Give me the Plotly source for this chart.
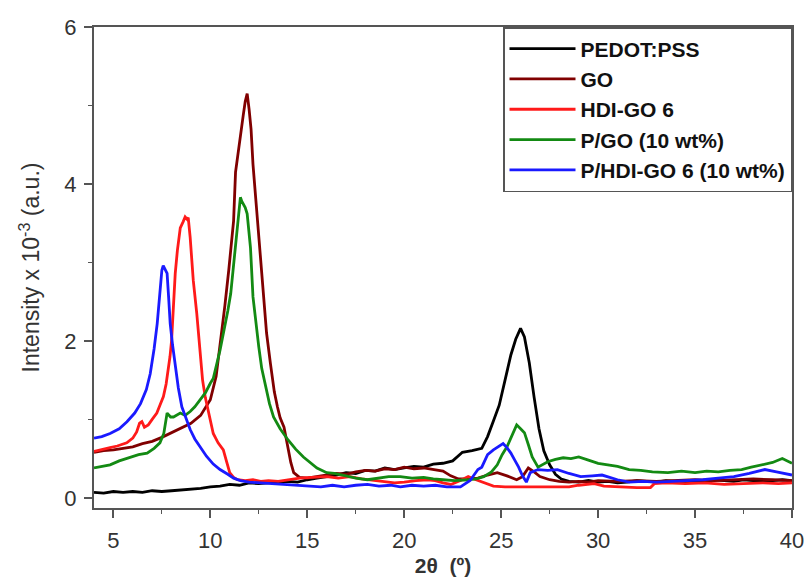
import plotly.graph_objects as go

# ---- data (2θ in degrees, intensity x 10^-3 a.u.) ----
PEDOT_PSS = [(4.0,0.07),(4.5,0.06),(5.0,0.08),(5.5,0.07),(6.0,0.08),(6.5,0.07),(7.0,0.09),(7.5,0.08),
    (8.0,0.09),(8.5,0.10),(9.0,0.11),(9.5,0.12),(10.0,0.14),(10.5,0.15),(11.0,0.17),(11.5,0.16),
    (12.0,0.19),(12.5,0.18),(13.0,0.19),(13.5,0.20),(14.0,0.21),(14.5,0.20),(15.0,0.23),(15.5,0.25),
    (16.0,0.27),(16.5,0.29),(17.0,0.32),(17.5,0.31),(18.0,0.35),(18.5,0.34),(19.0,0.38),(19.5,0.36),
    (20.0,0.38),(20.5,0.40),(21.0,0.39),(21.5,0.43),(22.0,0.44),(22.5,0.47),(23.0,0.58),(23.5,0.60),
    (24.0,0.63),(24.3,0.78),(24.6,0.98),(24.9,1.18),(25.2,1.50),(25.5,1.82),(25.75,2.02),(26.0,2.16),
    (26.2,2.05),(26.45,1.72),(26.7,1.28),(26.95,0.88),(27.2,0.60),(27.5,0.42),(27.8,0.30),(28.1,0.24),
    (28.5,0.21),(29.0,0.20),(29.5,0.22),(30.0,0.20),(30.5,0.21),(31.0,0.19),(31.5,0.20),(32.0,0.22),
    (32.5,0.21),(33.0,0.20),(33.5,0.22),(34.0,0.21),(34.5,0.20),(35.0,0.22),(35.5,0.21),(36.0,0.23),
    (36.5,0.22),(37.0,0.21),(37.5,0.23),(38.0,0.22),(38.5,0.21),(39.0,0.22),(39.5,0.23),(40.0,0.22)]

GO = [(4.0,0.58),(4.5,0.60),(5.0,0.61),(5.5,0.63),(6.0,0.65),(6.5,0.69),(7.0,0.72),(7.5,0.77),
    (8.0,0.83),(8.5,0.89),(9.0,0.95),(9.5,1.05),(10.0,1.25),(10.3,1.55),(10.5,1.92),(10.75,2.45),
    (10.95,2.90),(11.1,3.30),(11.2,3.53),(11.3,4.15),(11.45,4.45),(11.55,4.63),(11.7,4.88),(11.8,5.05),
    (11.9,5.15),(12.0,4.95),(12.1,4.70),(12.2,4.25),(12.35,3.80),(12.5,3.40),(12.6,3.00),(12.75,2.56),
    (12.9,2.10),(13.1,1.71),(13.3,1.35),(13.46,1.16),(13.6,1.02),(13.8,0.90),(14.0,0.65),(14.15,0.45),
    (14.3,0.32),(14.6,0.26),(15.0,0.25),(15.5,0.27),(16.0,0.29),(16.5,0.31),(17.0,0.30),(17.5,0.33),
    (18.0,0.35),(18.5,0.34),(19.0,0.37),(19.5,0.36),(20.0,0.39),(20.5,0.37),(21.0,0.38),(21.5,0.36),
    (22.0,0.34),(22.4,0.28),(22.8,0.24),(23.3,0.24),(23.8,0.25),(24.3,0.29),(24.8,0.32),(25.3,0.28),
    (25.8,0.23),(26.1,0.27),(26.4,0.38),(26.7,0.33),(27.0,0.27),(27.5,0.23),(28.0,0.21),(28.5,0.20),
    (29.0,0.21),(29.5,0.20),(30.0,0.22),(31.0,0.21),(32.0,0.22),(33.0,0.21),(34.0,0.22),(35.0,0.23),
    (36.0,0.22),(37.0,0.23),(38.0,0.24),(39.0,0.23),(40.0,0.22)]

HDI_GO_6 = [(4.0,0.59),(4.4,0.61),(4.83,0.64),(5.2,0.66),(5.69,0.70),(6.0,0.76),(6.2,0.84),(6.35,0.95),
    (6.47,0.97),(6.6,0.90),(6.8,0.93),(7.0,1.00),(7.24,1.08),(7.4,1.18),(7.58,1.29),(7.72,1.45),
    (7.83,1.62),(7.92,1.80),(8.0,2.00),(8.1,2.45),(8.19,2.86),(8.3,3.15),(8.45,3.44),(8.6,3.52),
    (8.7,3.58),(8.8,3.55),(8.86,3.57),(8.96,3.32),(9.05,3.00),(9.12,2.77),(9.3,2.35),(9.48,1.79),
    (9.6,1.50),(9.74,1.28),(9.95,1.02),(10.15,0.82),(10.4,0.70),(10.67,0.61),(10.85,0.45),(11.0,0.32),
    (11.2,0.26),(11.4,0.23),(11.8,0.22),(12.2,0.23),(12.6,0.21),(13.0,0.22),(13.5,0.21),(14.0,0.23),
    (14.6,0.25),(15.2,0.26),(16.0,0.27),(16.6,0.25),(17.2,0.27),(17.8,0.24),(18.4,0.22),(19.0,0.20),
    (19.5,0.19),(20.0,0.20),(20.6,0.22),(21.2,0.23),(21.6,0.22),(22.0,0.19),(22.4,0.17),(22.9,0.22),
    (23.3,0.27),(23.6,0.24),(24.0,0.20),(24.6,0.15),(25.2,0.14),(26.0,0.14),(27.0,0.14),(28.0,0.14),
    (28.5,0.14),(29.0,0.16),(29.8,0.18),(30.3,0.15),(31.0,0.14),(32.0,0.13),(32.7,0.13),(32.9,0.18),
    (33.5,0.19),(34.5,0.18),(35.5,0.19),(36.5,0.17),(37.5,0.18),(38.5,0.19),(39.3,0.18),(40.0,0.19)]

P_GO_10 = [(4.0,0.38),(4.4,0.40),(4.83,0.42),(5.3,0.47),(5.86,0.52),(6.3,0.55),(6.74,0.57),(7.1,0.63),
    (7.4,0.70),(7.6,0.82),(7.77,1.08),(7.95,1.03),(8.1,1.03),(8.3,1.06),(8.45,1.08),(8.7,1.05),
    (8.96,1.10),(9.2,1.16),(9.48,1.25),(9.75,1.34),(10.0,1.46),(10.15,1.52),(10.5,1.88),(10.7,2.12),
    (10.9,2.38),(11.05,2.60),(11.2,2.98),(11.35,3.35),(11.45,3.62),(11.55,3.83),(11.62,3.78),(11.7,3.74),
    (11.8,3.70),(11.9,3.62),(12.0,3.40),(12.07,3.19),(12.2,2.56),(12.35,2.20),(12.5,1.92),(12.65,1.65),
    (12.85,1.41),(13.05,1.20),(13.26,1.03),(13.6,0.88),(14.0,0.74),(14.4,0.62),(14.8,0.52),(15.2,0.44),
    (15.5,0.38),(16.0,0.32),(16.4,0.31),(17.0,0.28),(17.5,0.25),(18.1,0.23),(18.6,0.25),(19.2,0.27),
    (19.8,0.27),(20.4,0.25),(21.0,0.26),(21.5,0.24),(22.0,0.23),(22.6,0.22),(23.3,0.23),(23.7,0.24),
    (24.1,0.27),(24.5,0.33),(24.8,0.42),(25.05,0.55),(25.3,0.65),(25.55,0.80),(25.8,0.93),(26.0,0.88),
    (26.2,0.83),(26.4,0.68),(26.6,0.52),(26.9,0.39),(27.1,0.42),(27.4,0.46),(27.8,0.49),(28.2,0.51),
    (28.6,0.50),(29.0,0.52),(29.5,0.48),(30.0,0.44),(30.5,0.42),(31.0,0.40),(31.6,0.36),(32.2,0.35),
    (32.8,0.33),(33.6,0.32),(34.3,0.34),(35.0,0.32),(35.6,0.34),(36.2,0.33),(36.8,0.35),(37.4,0.36),
    (37.9,0.39),(38.5,0.42),(39.0,0.45),(39.5,0.50),(40.0,0.44)]

P_HDI_GO_6_10 = [(4.0,0.76),(4.4,0.78),(4.83,0.82),(5.3,0.88),(5.7,0.97),(6.1,1.08),(6.4,1.20),(6.7,1.38),
    (6.9,1.58),(7.1,1.90),(7.26,2.22),(7.4,2.60),(7.5,2.90),(7.57,2.96),(7.65,2.92),(7.77,2.86),
    (7.85,2.55),(7.93,2.22),(8.05,1.95),(8.19,1.67),(8.35,1.40),(8.53,1.16),(8.75,1.00),(8.96,0.87),
    (9.2,0.75),(9.48,0.65),(9.8,0.53),(10.15,0.43),(10.5,0.36),(10.9,0.30),(11.2,0.25),(11.55,0.22),
    (12.0,0.20),(12.6,0.19),(13.2,0.18),(14.0,0.17),(14.8,0.16),(15.7,0.14),(16.3,0.16),(16.9,0.14),
    (17.5,0.16),(18.1,0.17),(18.7,0.15),(19.3,0.16),(19.8,0.14),(20.4,0.16),(21.0,0.15),(21.6,0.16),
    (22.2,0.14),(22.9,0.14),(23.4,0.22),(23.8,0.36),(24.0,0.39),(24.3,0.55),(24.6,0.61),(25.1,0.69),
    (25.3,0.64),(25.5,0.57),(25.7,0.48),(25.9,0.39),(26.1,0.28),(26.3,0.20),(26.5,0.32),(26.9,0.36),
    (27.4,0.35),(27.9,0.36),(28.5,0.31),(29.1,0.27),(29.7,0.28),(30.2,0.29),(31.0,0.23),(31.6,0.20),
    (32.3,0.21),(33.0,0.20),(33.8,0.21),(34.6,0.22),(35.4,0.23),(36.2,0.25),(37.0,0.27),(37.8,0.31),
    (38.6,0.36),(39.2,0.33),(40.0,0.29)]

SERIES_NAMES = ["PEDOT:PSS", "GO", "HDI-GO 6", "P/GO (10 wt%)", "P/HDI-GO 6 (10 wt%)"]
SERIES_DATA = [PEDOT_PSS, GO, HDI_GO_6, P_GO_10, P_HDI_GO_6_10]
SERIES_COLORS = ["#000000", "#800000", "#ff1a1a", "#138a13", "#1a1aff"]

X_TICKS = [5, 10, 15, 20, 25, 30, 35, 40]
Y_TICKS = [0, 2, 4, 6]

FONT = "Liberation Sans, Arial, sans-serif"

fig = go.Figure()
for name, data, color in zip(SERIES_NAMES, SERIES_DATA, SERIES_COLORS):
    fig.add_trace(go.Scatter(
        x=[p[0] for p in data], y=[p[1] for p in data],
        mode="lines", name=name,
        line=dict(color=color, width=2.8),
    ))

axis_common = dict(
    showline=True, linecolor="#555555", linewidth=2, mirror=True,
    ticks="outside", ticklen=8, tickwidth=1.5, tickcolor="#555555",
    showgrid=False, zeroline=False, automargin=False,
    tickfont=dict(family=FONT, size=22, color="#333333"),
)

fig.update_xaxes(
    range=[4, 40], tickvals=X_TICKS, ticklabelstandoff=4,
    minor=dict(dtick=2.5, tick0=2.5, ticks="outside", ticklen=4, tickcolor="#555555", tickwidth=1.2),
    title=dict(text="<b>2θ  (º)</b>", font=dict(family=FONT, size=21, color="#333333"), standoff=6),
    **axis_common,
)
fig.update_yaxes(
    range=[-0.13, 6], tickvals=Y_TICKS, ticklabelstandoff=3,
    minor=dict(dtick=1, tick0=1, ticks="outside", ticklen=4, tickcolor="#555555", tickwidth=1.2),
    title=dict(text="Intensity x 10<sup>-3</sup> (a.u.)", font=dict(family=FONT, size=23, color="#333333"), standoff=18),
    **axis_common,
)

fig.update_layout(
    width=806, height=583,
    margin=dict(l=94, r=14, t=27, b=75),
    plot_bgcolor="white", paper_bgcolor="white",
    legend=dict(
        x=1, y=1, xanchor="right", yanchor="top",
        bordercolor="#555555", borderwidth=1.5, bgcolor="white",
        font=dict(family=FONT, size=21, color="#111111", weight="bold"),
        itemwidth=66, tracegroupgap=0,
    ),
)

fig.write_html("out.html")
